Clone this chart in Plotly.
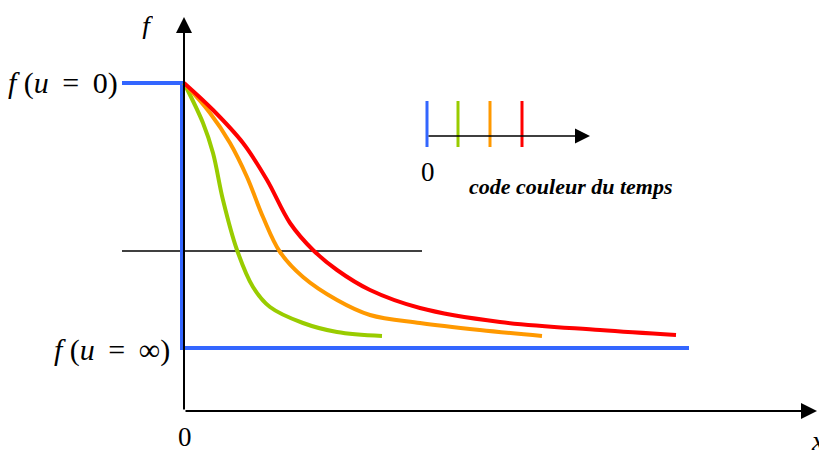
import plotly.graph_objects as go

# coordinates: x = distance from the origin to the right, y = height above the x axis
# initial step profile (blue)
blue_x = [-62, -2, -2, 505]
blue_y = [328, 328, 63, 63]

# profiles at increasing times
green_x = [0, 19, 29, 39, 53, 69, 86, 119, 153, 198]
green_y = [328, 288, 258, 211, 161, 124, 104, 88, 79, 75]

orange_x = [0, 26, 46, 63, 79, 96, 119, 153, 186, 236, 296, 358]
orange_y = [328, 298, 268, 234, 194, 159, 134, 111, 96, 88, 81, 75]

red_x = [0, 29, 59, 83, 106, 129, 153, 186, 236, 316, 416, 492]
red_y = [328, 301, 268, 231, 188, 161, 141, 121, 103, 89, 81, 76]

# mid level line
mid_x = [-62, 238]
mid_y = [160, 160]

# time colour code
tick_times = [243, 274, 306, 338]
tick_colors = ["#3366ff", "#99cc00", "#ff9900", "#ff0000"]

fig = go.Figure()

fig.add_trace(go.Scatter(x=mid_x, y=mid_y, mode="lines",
                         line=dict(color="black", width=1.5)))
fig.add_trace(go.Scatter(x=blue_x, y=blue_y, mode="lines",
                         line=dict(color="#3366ff", width=4)))
for xs, ys, c in [(green_x, green_y, "#99cc00"),
                  (orange_x, orange_y, "#ff9900"),
                  (red_x, red_y, "#ff0000")]:
    fig.add_trace(go.Scatter(x=xs, y=ys, mode="lines", line_shape="spline",
                             line=dict(color=c, width=4)))

for t, c in zip(tick_times, tick_colors):
    fig.add_trace(go.Scatter(x=[t, t], y=[264, 310], mode="lines",
                             line=dict(color=c, width=3)))

# arrows: axes and time axis
arrows = [
    dict(x=0, y=394, ax=0, ay=0, w=2, s=1.6),      # f axis
    dict(x=633, y=0, ax=0, ay=0, w=2, s=1.6),      # x axis
    dict(x=406, y=275, ax=243, ay=275, w=1.5, s=2),  # time
]
for a in arrows:
    fig.add_annotation(x=a["x"], y=a["y"], ax=a["ax"], ay=a["ay"],
                       xref="x", yref="y", axref="x", ayref="y",
                       text="", showarrow=True, arrowhead=2,
                       arrowwidth=a["w"], arrowsize=a["s"], arrowcolor="black")

serif = "Liberation Serif"
sp = "\u2009"
labels = [
    dict(x=-64, y=328, t="<i>f</i> (<i>u</i> " + sp + "=" + sp + " 0)", xa="right", size=30, h=None),
    dict(x=-12, y=61, t="<i>f</i> (<i>u</i> " + sp + "=" + sp + " ∞)", xa="right", size=30, h=None),
    dict(x=-37, y=386, t="<i>f</i>", xa="center", size=28, h=28),
    dict(x=1, y=-26, t="0", xa="center", size=27, h=22),
    dict(x=643, y=-29, t="<i>x</i>", xa="right", size=28, h=20),
    dict(x=244, y=239, t="0", xa="center", size=27, h=None),
    dict(x=387, y=225, t="<b><i>code couleur du temps</i></b>", xa="center", size=22, h=None),
]
for l in labels:
    fig.add_annotation(x=l["x"], y=l["y"], xref="x", yref="y", text=l["t"],
                       showarrow=False, xanchor=l["xa"], yanchor="middle",
                       height=l["h"],
                       font=dict(family=serif, size=l["size"], color="black"))

# the page adds an 8px body margin, so the figure is 8px smaller than the window
fig.update_layout(
    width=819, height=442,
    margin=dict(l=0, r=0, t=0, b=0),
    plot_bgcolor="white", paper_bgcolor="white",
    showlegend=False,
    xaxis=dict(range=[-176, 643], visible=False),
    yaxis=dict(range=[-39, 403], visible=False),
)

fig.write_html("out.html")
